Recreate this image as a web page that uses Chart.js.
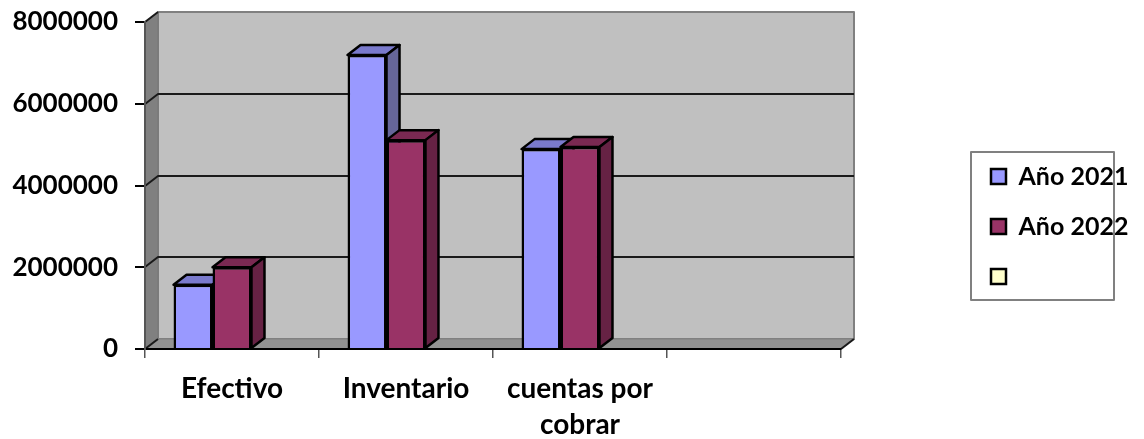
<!DOCTYPE html>
<html>
<head>
<meta charset="utf-8">
<style>
  html, body { margin: 0; padding: 0; background: #fff; }
  canvas { display: block; }
</style>
<script src="https://cdn.jsdelivr.net/npm/chart.js@4"></script>
</head>
<body>
<canvas id="chart" width="1144" height="439"></canvas>
<script>
const categories = ["Efectivo", "Inventario", ["cuentas por", "cobrar"], ""];
const seriesNames = ["Año 2021", "Año 2022", ""];
const values2021 = [1570000, 7190000, 4890000, null];
const values2022 = [2000000, 5110000, 4940000, null];
const valuesEmpty = [null, null, null, null];
const yTicks = [0, 2000000, 4000000, 6000000, 8000000];

const frontColors = ["#9999ff", "#993366", "#ffffcc"];
const topColors = ["#7a7acc", "#7a2952", "#cccca3"];
const sideColors = ["#666699", "#662244", "#a3a382"];
const depthX = 13;
const depthY = 10;
const fontName = "Lato, 'Open Sans', sans-serif";

function poly(ctx, pts, fill, stroke, width) {
  ctx.beginPath();
  pts.forEach((p, i) => (i ? ctx.lineTo(p[0], p[1]) : ctx.moveTo(p[0], p[1])));
  ctx.closePath();
  if (fill) {
    ctx.fillStyle = fill;
    ctx.fill();
  }
  if (stroke) {
    ctx.strokeStyle = stroke;
    ctx.lineWidth = width;
    ctx.lineJoin = "round";
    ctx.stroke();
  }
}

// walls, floor and the gridlines on the back wall
const walls = {
  id: "walls",
  beforeDraw(chart) {
    const { ctx, chartArea: a, scales } = chart;
    ctx.save();
    poly(ctx, [[a.left + depthX, a.top - depthY], [a.right + depthX, a.top - depthY], [a.right + depthX, a.bottom - depthY], [a.left + depthX, a.bottom - depthY]], "#c0c0c0", "#808080", 2);
    poly(ctx, [[a.left, a.top], [a.left + depthX, a.top - depthY], [a.left + depthX, a.bottom - depthY], [a.left, a.bottom]], "#808080", "#777777", 1);
    poly(ctx, [[a.left, a.bottom], [a.left + depthX, a.bottom - depthY], [a.right + depthX, a.bottom - depthY], [a.right, a.bottom]], "#939393", "#808080", 1);
    ctx.strokeStyle = "#1a1a1a";
    ctx.lineWidth = 2;
    yTicks.forEach((v) => {
      const y = Math.round(scales.y.getPixelForValue(v));
      ctx.beginPath();
      ctx.moveTo(a.left, y);
      ctx.lineTo(a.left + depthX, y - depthY);
      if (v > 0 && v < 8000000) ctx.lineTo(a.right + depthX, y - depthY);
      ctx.stroke();
    });
    ctx.beginPath();
    ctx.moveTo(a.right, a.bottom);
    ctx.lineTo(a.right + depthX, a.bottom - depthY);
    ctx.stroke();
    // legend frame
    ctx.strokeStyle = "#808080";
    ctx.lineWidth = 2;
    ctx.strokeRect(971, 152, 143, 148);
    ctx.restore();
  },
  // top and side faces of each bar, the library paints the front on top
  beforeDatasetsDraw(chart) {
    const { ctx } = chart;
    ctx.save();
    chart.data.datasets.forEach((ds, i) => {
      chart.getDatasetMeta(i).data.forEach((bar, j) => {
        if (ds.data[j] === null) return;
        const left = bar.x - bar.width / 2;
        const right = bar.x + bar.width / 2;
        poly(ctx, [[left, bar.y], [left + depthX, bar.y - depthY], [right + depthX, bar.y - depthY], [right, bar.y]], topColors[i], "#000", 2.5);
        poly(ctx, [[right, bar.y], [right + depthX, bar.y - depthY], [right + depthX, bar.base - depthY], [right, bar.base]], sideColors[i], "#000", 2.5);
      });
    });
    ctx.restore();
  },
  // the legend sits alone on the right, away from the plot
  afterLayout(chart) {
    const legend = chart.legend;
    legend.left = 966;
    legend.top = 139;
    legend.right = 1144;
    legend.bottom = 360;
    legend.width = 178;
    legend.height = 221;
    legend.adjustHitBoxes();
  },
};

new Chart(document.getElementById("chart"), {
  type: "bar",
  data: {
    labels: categories,
    datasets: seriesNames.map((name, i) => ({
      label: name,
      data: [values2021, values2022, valuesEmpty][i],
      backgroundColor: frontColors[i],
      borderColor: "#000",
      borderWidth: 2.5,
    })),
  },
  plugins: [walls],
  options: {
    responsive: false,
    animation: false,
    devicePixelRatio: 1,
    layout: { padding: { left: 0, top: 22, right: 303, bottom: 0 } },
    datasets: { bar: { categoryPercentage: 0.672, barPercentage: 1 } },
    plugins: {
      tooltip: { enabled: false },
      legend: {
        position: "chartArea",
        align: "start",
        labels: {
          color: "#000",
          boxWidth: 15,
          boxHeight: 15,
          padding: 25,
          font: { family: fontName, size: 25, weight: "bold" },
        },
      },
    },
    scales: {
      x: {
        afterFit(scale) {
          scale.height = 90;
        },
        grid: { drawOnChartArea: false, tickLength: 9, color: "#555", lineWidth: 1.5 },
        border: { color: "#000", width: 2 },
        ticks: {
          color: "#000",
          padding: 12,
          maxRotation: 0,
          autoSkip: false,
          font: { family: fontName, size: 28, weight: "bold", lineHeight: 1.32 },
        },
      },
      y: {
        min: 0,
        max: 8000000,
        afterFit(scale) {
          scale.width = 145;
          scale.paddingTop = 0;
          scale.paddingBottom = 0;
        },
        afterBuildTicks(scale) {
          scale.ticks = yTicks.map((v) => ({ value: v }));
        },
        grid: { drawOnChartArea: false, tickLength: 10, color: "#000", lineWidth: 2 },
        border: { color: "#555", width: 2 },
        ticks: {
          color: "#000",
          padding: 17,
          callback: (v) => String(v),
          font: { family: fontName, size: 26, weight: "bold" },
        },
      },
    },
  },
});
</script>
</body>
</html>
